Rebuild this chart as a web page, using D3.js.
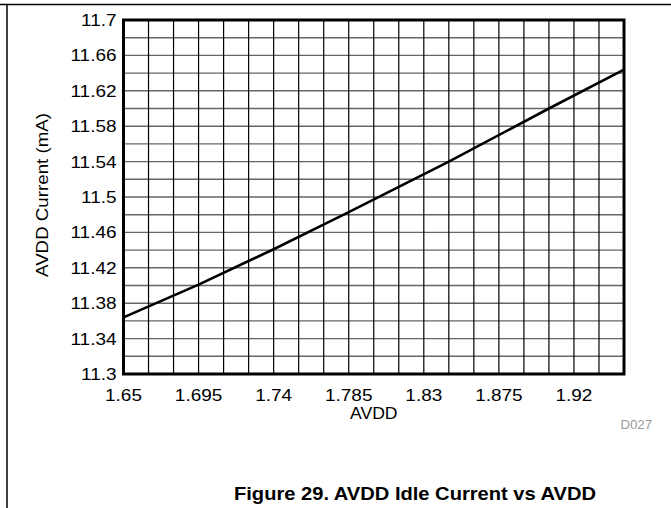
<!DOCTYPE html>
<html lang="en">
<head>
<meta charset="UTF-8">
<title>AVDD Idle Current vs AVDD</title>
<style>
  body { margin: 0; background: #fff; }
  svg { display: block; font-family: "Liberation Sans", Arial, sans-serif; }
  .hgrid line { stroke: #666; stroke-width: 1.4; }
  .vgrid line { stroke: #000; stroke-width: 1.2; }
  .tick-label { font-size: 16.5px; fill: #000; }
  .line { fill: none; stroke: #000; stroke-width: 2.6px; }
</style>
</head>
<body>
<script src="https://d3js.org/d3.v7.min.js"></script>
<script>
var avdd    = [1.65, 1.695, 1.74, 1.785, 1.845, 1.905, 1.95];
var current = [11.364, 11.401, 11.441, 11.483, 11.540, 11.600, 11.644];

var xTickLabels = [1.65, 1.695, 1.74, 1.785, 1.83, 1.875, 1.92];
var yTickLabels = [11.3, 11.34, 11.38, 11.42, 11.46, 11.5, 11.54, 11.58, 11.62, 11.66, 11.7];

var W = 671, H = 508;
var margin = { left: 123.5, top: 20, right: 47, bottom: 134 };
var width = W - margin.left - margin.right,
    height = H - margin.top - margin.bottom;

// the source text is set a bit wider than Liberation Sans
var stretch = 1.15;

var svg = d3.select("body").append("svg")
    .attr("width", W)
    .attr("height", H);

// page frame lines
svg.append("line").attr("x1", 0).attr("x2", W).attr("y1", 4.5).attr("y2", 4.5)
    .attr("stroke", "#000").attr("stroke-width", 1.5);
svg.append("line").attr("x1", 7).attr("x2", 7).attr("y1", 4).attr("y2", H)
    .attr("stroke", "#000").attr("stroke-width", 1.5);

var x = d3.scaleLinear().domain([1.65, 1.95]).range([0, width]);
var y = d3.scaleLinear().domain([11.3, 11.7]).range([height, 0]);

var g = svg.append("g")
    .attr("transform", "translate(" + margin.left + "," + margin.top + ")");

// grid: every 0.015 on x, every 0.02 on y
var xGrid = d3.range(1, 20).map(function(i) { return 1.65 + i * 0.015; });
var yGrid = d3.range(1, 20).map(function(i) { return 11.3 + i * 0.02; });

g.append("g").attr("class", "hgrid")
  .selectAll("line").data(yGrid).enter().append("line")
    .attr("x1", 0).attr("x2", width)
    .attr("y1", function(d) { return y(d); })
    .attr("y2", function(d) { return y(d); });

g.append("g").attr("class", "vgrid")
  .selectAll("line").data(xGrid).enter().append("line")
    .attr("y1", 0).attr("y2", height)
    .attr("x1", function(d) { return x(d); })
    .attr("x2", function(d) { return x(d); });

// tick labels
g.selectAll(".xlab").data(xTickLabels).enter().append("text")
    .attr("class", "tick-label")
    .attr("transform", function(d) {
        return "translate(" + x(d) + "," + (height + 26.5) + ") scale(" + stretch + ",1)";
    })
    .attr("text-anchor", "middle")
    .text(function(d) { return d; });

g.selectAll(".ylab").data(yTickLabels).enter().append("text")
    .attr("class", "tick-label")
    .attr("transform", function(d) {
        return "translate(-7," + (y(d) + 6) + ") scale(" + stretch + ",1)";
    })
    .attr("text-anchor", "end")
    .text(function(d) { return d; });

// data line
var line = d3.line()
    .x(function(d, i) { return x(avdd[i]); })
    .y(function(d) { return y(d); });

g.append("path")
    .datum(current)
    .attr("class", "line")
    .attr("d", line);

// plot frame
g.append("rect")
    .attr("width", width).attr("height", height)
    .attr("fill", "none").attr("stroke", "#000").attr("stroke-width", 3);

// axis titles
g.append("text")
    .attr("transform", "translate(" + (width / 2) + "," + (height + 45) + ") scale(1.1,1)")
    .attr("text-anchor", "middle")
    .style("font-size", "16px")
    .text("AVDD");

g.append("text")
    .attr("transform", "translate(-76," + (height / 2 - 2) + ") rotate(-90) scale(1.17,1)")
    .attr("text-anchor", "middle")
    .style("font-size", "16px")
    .text("AVDD Current (mA)");

svg.append("text")
    .attr("transform", "translate(652,429) scale(1.1,1)")
    .attr("text-anchor", "end")
    .style("font-size", "12px")
    .attr("fill", "#999")
    .text("D027");

svg.append("text")
    .attr("transform", "translate(415,500) scale(1.15,1)")
    .attr("text-anchor", "middle")
    .style("font-size", "17.5px")
    .style("font-weight", "bold")
    .text("Figure 29. AVDD Idle Current vs AVDD");
</script>
</body>
</html>
